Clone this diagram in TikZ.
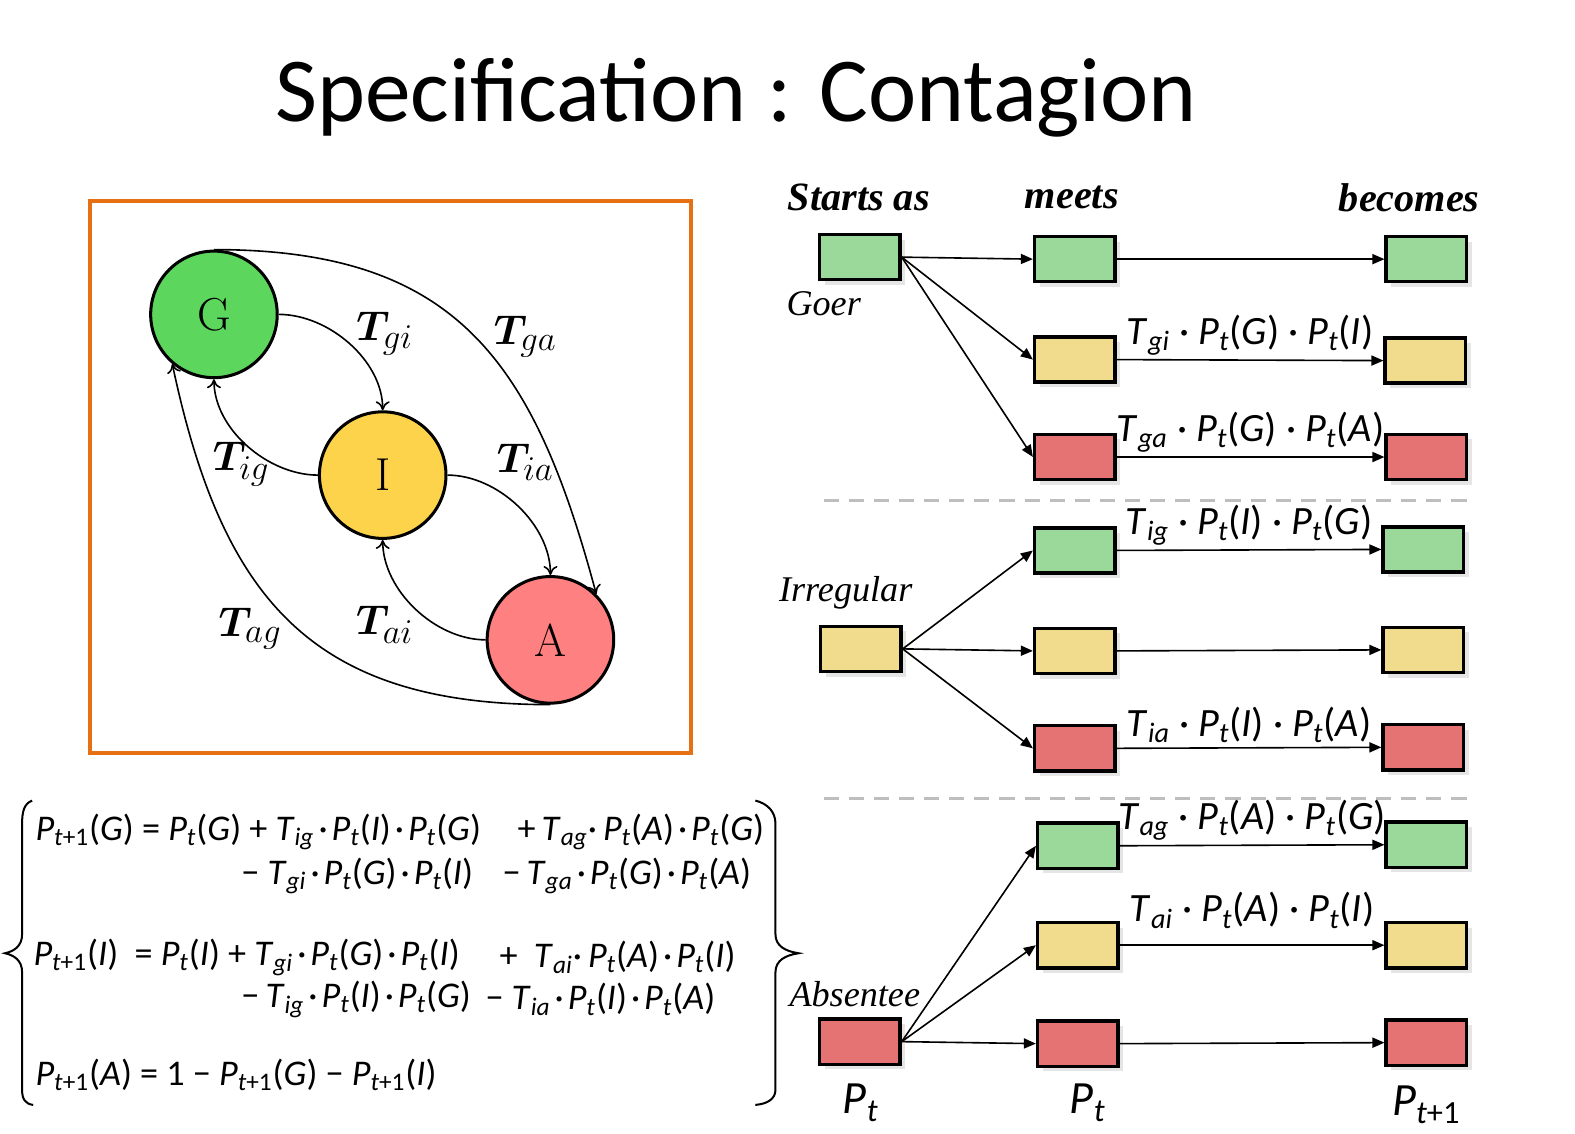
\documentclass[tikz,border=0pt]{standalone}
\usepackage{fontspec}
\usepackage{amsmath}
\usepackage{bm}
\usetikzlibrary{arrows.meta,positioning,shadows}
\newfontfamily\titlefont{Carlito}
\newfontfamily\eqfont{Carlito}
\newfontfamily\labfont{Liberation Serif}
\definecolor{frameorange}{RGB}{230,112,20}
\definecolor{gcirc}{RGB}{92,214,92}
\definecolor{icirc}{RGB}{253,211,75}
\definecolor{acirc}{RGB}{255,128,128}
\definecolor{gbox}{RGB}{154,217,154}
\definecolor{ibox}{RGB}{240,220,140}
\definecolor{abox}{RGB}{229,115,115}
\definecolor{sepgray}{RGB}{190,190,190}
\newcommand{\tsb}{\textit{t}}
\newcommand{\tsq}{\textit{t}+1}
\newcommand{\prb}[2]{\textit{P}\textsubscript{#1}(\textit{#2})}
\newcommand{\trn}[1]{\textit{T}\textsubscript{\textit{#1}}}
\newcommand{\cdt}{\kern2pt·\kern2pt}
\newcommand{\cdw}{\ ·\ }
\newcommand{\rlab}[1]{$\bm{T}_{\mbox{\fontsize{17.5}{20}\selectfont$#1$}}$}
\begin{document}
\begin{tikzpicture}[
    x=0.5pt, y=0.5pt,
    state/.style={circle, draw, line width=1.5pt, minimum size=63pt, inner sep=0pt, font=\fontsize{23}{26}\selectfont},
    trans/.style={font=\fontsize{21}{26}\selectfont},
    link/.style={-{Computer Modern Rightarrow[length=4.5pt,width=7pt]}, line width=0.8pt},
    cell/.style={draw, line width=1.7pt, minimum width=40pt, minimum height=22.5pt, inner sep=0pt, drop shadow={shadow xshift=2.5pt, shadow yshift=-2.5pt, opacity=0.2}},
    flow/.style={-{Triangle[length=6pt,width=5pt]}, line width=0.8pt},
    head/.style={font=\labfont\bfseries\itshape\fontsize{20}{24}\selectfont},
    kind/.style={font=\labfont\itshape\fontsize{18}{22}\selectfont},
    eq/.style={anchor=west, inner sep=0pt, font=\eqfont\fontsize{18}{22}\selectfont},
    rate/.style={above, inner sep=2pt, font=\eqfont\fontsize{20}{24}\selectfont},
    sep/.style={sepgray, line width=1.5pt, dash pattern=on 7.5pt off 5pt}
  ]
    \fill[white] (0,0) rectangle (1568,-1128);
    \useasboundingbox (0,0) rectangle (1568,-1128);

    % Title
    \node[font=\titlefont\fontsize{45.5}{54}\selectfont] (title) at (733,-97) {Specification : Contagion};

    % State diagram
    \draw[frameorange, line width=2pt] (90,-200) rectangle (688,-750);
    \node[state, fill=gcirc] (G) at (213,-313) {G};
    \node[state, fill=icirc] (I) at (381,-473) {I};
    \node[state, fill=acirc] (A) at (548,-637) {A};

    \draw[link] (G.east) to[out=0, in=90, looseness=0.9] (I.north);
    \draw[link] (I.west) to[out=180, in=-90, looseness=0.9] (G.south);
    \draw[link] (I.east) to[out=0, in=90, looseness=0.9] (A.north);
    \draw[link] (A.west) to[out=180, in=-90, looseness=0.9] (I.south);
    \draw[link] (G.north) to[out=0, in=105, looseness=1.2] (A.45);
    \draw[link] (A.south) to[out=180, in=-78, looseness=1.2] (G.230);

    \node[trans] (tgi) at (383,-332) {\rlab{gi}};
    \node[trans] (tga) at (523,-335) {\rlab{ga}};
    \node[trans] (tig) at (240,-462) {\rlab{ig}};
    \node[trans] (tia) at (523,-460) {\rlab{ia}};
    \node[trans] (tag) at (249,-626) {\rlab{ag}};
    \node[trans] (tai) at (383,-622) {\rlab{ai}};

    % Equations
    \node[eq] (eqg) at (35,-828) {\prb{\tsq}{G} = \prb{\tsb}{G} + \trn{ig}\cdt\prb{\tsb}{I}\cdt\prb{\tsb}{G}};
    \node[eq] (eqgb) at (515,-828) {+\,\trn{ag}·\,\prb{\tsb}{A}\cdt\prb{\tsb}{G}};
    \node[eq] (eqgc) at (240,-872) {−\ \trn{gi}\cdt\prb{\tsb}{G}\cdt\prb{\tsb}{I}};
    \node[eq] (eqgd) at (500,-872) {−\,\trn{ga}\cdt\prb{\tsb}{G}\cdt\prb{\tsb}{A}};
    \node[eq] (eqi) at (33,-953) {\prb{\tsq}{I}\ \ = \prb{\tsb}{I} + \trn{gi}\cdt\prb{\tsb}{G}\cdt\prb{\tsb}{I}};
    \node[eq] (eqib) at (497,-953) {+\ \ \trn{ai}·\,\prb{\tsb}{A}\cdt\prb{\tsb}{I}};
    \node[eq] (eqic) at (240,-995) {−\,\trn{ig}\cdt\prb{\tsb}{I}\cdt\prb{\tsb}{G}};
    \node[eq] (eqid) at (483,-995) {−\ \trn{ia}\cdt\prb{\tsb}{I}\cdt\prb{\tsb}{A}};
    \node[eq] (eqa) at (35,-1070) {\prb{\tsq}{A} = 1 − \prb{\tsq}{G} − \prb{\tsq}{I}};

    % Braces
    \draw[line width=1pt] (32,-797) .. controls (24,-800) and (22,-808) .. (22,-820) -- (22,-930)
      .. controls (22,-942) and (14,-947) .. (5,-949) .. controls (14,-951) and (22,-956) .. (22,-968)
      -- (22,-1085) .. controls (22,-1094) and (25,-1099) .. (33,-1100);
    \draw[line width=1pt] (752,-797) .. controls (764,-800) and (772,-808) .. (772,-820) -- (772,-930)
      .. controls (772,-942) and (782,-947) .. (795,-949) .. controls (782,-951) and (772,-956) .. (772,-968)
      -- (772,-1085) .. controls (772,-1094) and (764,-1099) .. (752,-1100);

    % Column heads
    \node[head] (hstart) at (855,-197) {Starts as};
    \node[head] (hmeet) at (1067,-197) {meets};
    \node[head] (hbecome) at (1403,-197) {becomes};

    % Goer
    \node[cell, fill=gbox] (sg) at (856,-256) {};
    \node[kind] (goer) at (820,-302) {Goer};
    \node[cell, fill=gbox] (mg1) at (1070,-258) {};
    \node[cell, fill=ibox] (mi1) at (1070,-358) {};
    \node[cell, fill=abox] (ma1) at (1070,-455) {};
    \node[cell, fill=gbox] (bg1) at (1420,-258) {};
    \node[cell, fill=ibox] (bi1) at (1419,-359) {};
    \node[cell, fill=abox] (ba1) at (1420,-455) {};
    \draw[flow] (sg.east) -- (mg1.west);
    \draw[flow] (sg.east) -- (mi1.west);
    \draw[flow] (sg.east) -- (ma1.west);
    \draw[flow] (mg1.east) -- (bg1.west);
    \draw[flow] (mi1.east) -- node[rate] {\trn{gi}\cdw\prb{\tsb}{G}\cdw\prb{\tsb}{I}} (bi1.west);
    \draw[flow] (ma1.east) -- node[rate] {\trn{ga}\cdw\prb{\tsb}{G}\cdw\prb{\tsb}{A}} (ba1.west);

    \draw[sep] (820,-498) -- (1465,-498);

    % Irregular
    \node[cell, fill=ibox] (si) at (857,-646) {};
    \node[kind] (irreg) at (842,-590) {Irregular};
    \node[cell, fill=gbox] (mg2) at (1070,-548) {};
    \node[cell, fill=ibox] (mi2) at (1070,-648) {};
    \node[cell, fill=abox] (ma2) at (1070,-745) {};
    \node[cell, fill=gbox] (bg2) at (1417,-547) {};
    \node[cell, fill=ibox] (bi2) at (1417,-647) {};
    \node[cell, fill=abox] (ba2) at (1417,-744) {};
    \draw[flow] (si.east) -- (mg2.west);
    \draw[flow] (si.east) -- (mi2.west);
    \draw[flow] (si.east) -- (ma2.west);
    \draw[flow] (mg2.east) -- node[rate] {\trn{ig}\cdw\prb{\tsb}{I}\cdw\prb{\tsb}{G}} (bg2.west);
    \draw[flow] (mi2.east) -- (bi2.west);
    \draw[flow] (ma2.east) -- node[rate] {\trn{ia}\cdw\prb{\tsb}{I}\cdw\prb{\tsb}{A}} (ba2.west);

    \draw[sep] (820,-795) -- (1468,-795);

    % Absentee
    \node[cell, fill=abox] (sa) at (856,-1037) {};
    \node[kind] (absent) at (851,-990) {Absentee};
    \node[cell, fill=gbox] (mg3) at (1073,-842) {};
    \node[cell, fill=ibox] (mi3) at (1073,-941) {};
    \node[cell, fill=abox] (ma3) at (1073,-1039) {};
    \node[cell, fill=gbox] (bg3) at (1420,-841) {};
    \node[cell, fill=ibox] (bi3) at (1420,-941) {};
    \node[cell, fill=abox] (ba3) at (1420,-1038) {};
    \draw[flow] (sa.east) -- (mg3.west);
    \draw[flow] (sa.east) -- (mi3.west);
    \draw[flow] (sa.east) -- (ma3.west);
    \draw[flow] (mg3.east) -- node[rate] {\trn{ag}\cdw\prb{\tsb}{A}\cdw\prb{\tsb}{G}} (bg3.west);
    \draw[flow] (mi3.east) -- node[rate, above=6pt] {\trn{ai}\cdw\prb{\tsb}{A}\cdw\prb{\tsb}{I}} (bi3.west);
    \draw[flow] (ma3.east) -- (ba3.west);

    % Time steps
    \node[font=\eqfont\fontsize{23}{27}\selectfont] (pt0) at (857,-1098) {\textit{P}\textsubscript{\textit{t}}};
    \node[font=\eqfont\fontsize{23}{27}\selectfont] (pt1) at (1083,-1098) {\textit{P}\textsubscript{\textit{t}}};
    \node[font=\eqfont\fontsize{23}{27}\selectfont] (pt2) at (1420,-1100) {\textit{P}\textsubscript{\textit{t}+1}};
  \end{tikzpicture}
\end{document}
